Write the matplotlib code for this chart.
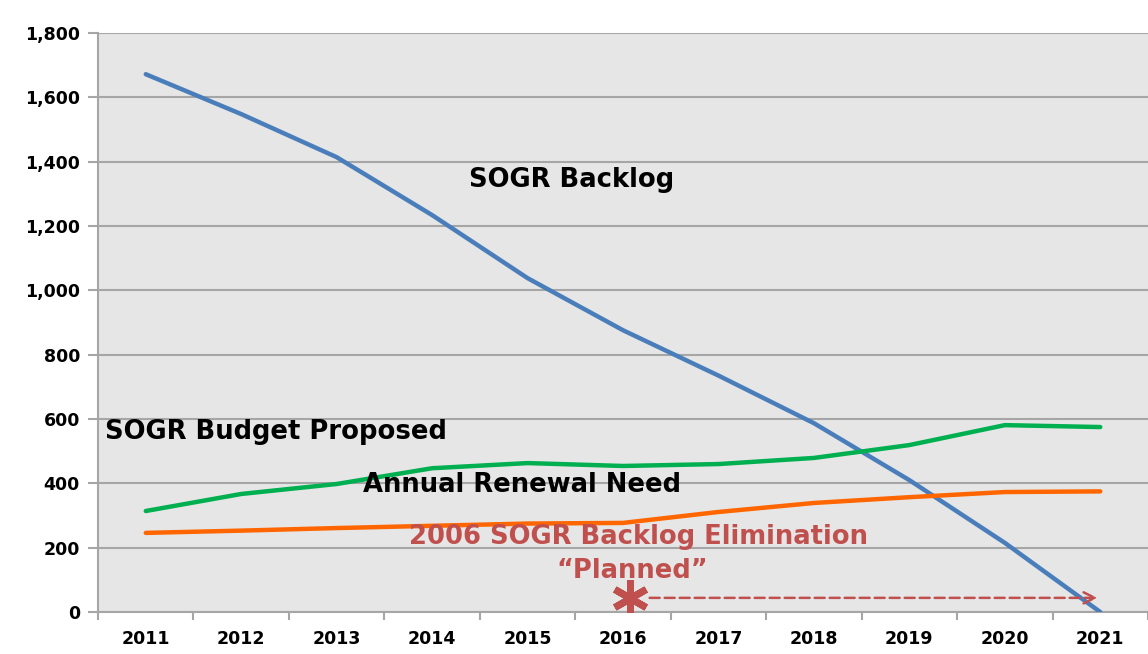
import numpy as np
import matplotlib.pyplot as plt
from matplotlib.ticker import FuncFormatter

# data
years = ['2011', '2012', '2013', '2014', '2015', '2016', '2017', '2018', '2019', '2020', '2021']
backlog = [1672, 1548, 1414, 1234, 1038, 876, 735, 587, 410, 215, 0]
budget = [314, 367, 398, 447, 463, 454, 460, 479, 519, 581, 575]
renewal = [246, 253, 261, 268, 275, 277, 311, 339, 357, 373, 375]

plan_start = 5.07
plan_end = 10.0
plan_level = 44

fig = plt.figure(figsize=(11.48, 6.54), dpi=100)
ax = fig.add_axes([0.0854, 0.0642, 0.9146, 0.8853])
ax.set_facecolor('#e6e6e6')

x = np.arange(len(years))
ax.plot(x, backlog, color='#4a7ebb', linewidth=3.2, solid_capstyle='round', zorder=3)
ax.plot(x, budget, color='#00b050', linewidth=3.2, solid_capstyle='round', zorder=3)
ax.plot(x, renewal, color='#ff6600', linewidth=3.2, solid_capstyle='round', zorder=3)

ax.set_xlim(-0.5, 10.5)
ax.set_ylim(0, 1800)
ax.set_yticks(range(0, 1801, 200))
ax.yaxis.set_major_formatter(FuncFormatter(lambda v, p: f'{int(v):,}'))
ax.grid(axis='y', color='#a6a6a6', linewidth=1.5, zorder=1)
ax.set_axisbelow(True)

ax.set_xticks(x)
ax.set_xticklabels(years)
ax.set_xticks(np.arange(-0.5, 10.6, 1), minor=True)
ax.tick_params(axis='x', which='major', length=0, pad=13)
ax.tick_params(axis='x', which='minor', length=6, color='#a6a6a6', width=1.5)
ax.tick_params(axis='y', length=7, color='#a6a6a6', width=1.5, pad=6)
for lab in ax.get_xticklabels() + ax.get_yticklabels():
    lab.set_fontweight('bold')
    lab.set_fontsize(12.5)
    lab.set_family('DejaVu Sans')

for s in ['top', 'right']:
    ax.spines[s].set_visible(False)
for s in ['left', 'bottom']:
    ax.spines[s].set_color('#a6a6a6')
    ax.spines[s].set_linewidth(1.5)

lbl = dict(fontsize=18.6, fontweight='bold', family='DejaVu Sans', color='black')
ax.text(4.46, 1343, 'SOGR Backlog', ha='center', va='center', **lbl)
ax.text(-0.43, 560, 'SOGR Budget Proposed', ha='left', va='center', **lbl)
ax.text(2.28, 395, 'Annual Renewal Need', ha='left', va='center', **lbl)

red = '#c0504d'
ax.text(5.16, 233, '2006 SOGR Backlog Elimination', ha='center', va='center',
        fontsize=18.6, fontweight='bold', family='DejaVu Sans', color=red)
ax.text(5.1, 127, '\u201cPlanned\u201d', ha='center', va='center',
        fontsize=18.6, fontweight='bold', family='DejaVu Sans', color=red)
ax.plot([plan_start], [plan_level], marker=(6, 2, 0), markersize=26,
        markeredgewidth=5, color=red, zorder=4)
ax.annotate('', xy=(plan_end, plan_level), xytext=(plan_start + 0.18, plan_level),
            arrowprops=dict(arrowstyle='->', color=red, linestyle=(0, (4, 2)),
                            linewidth=1.8, mutation_scale=20))

fig.savefig('out.png', dpi=100)
